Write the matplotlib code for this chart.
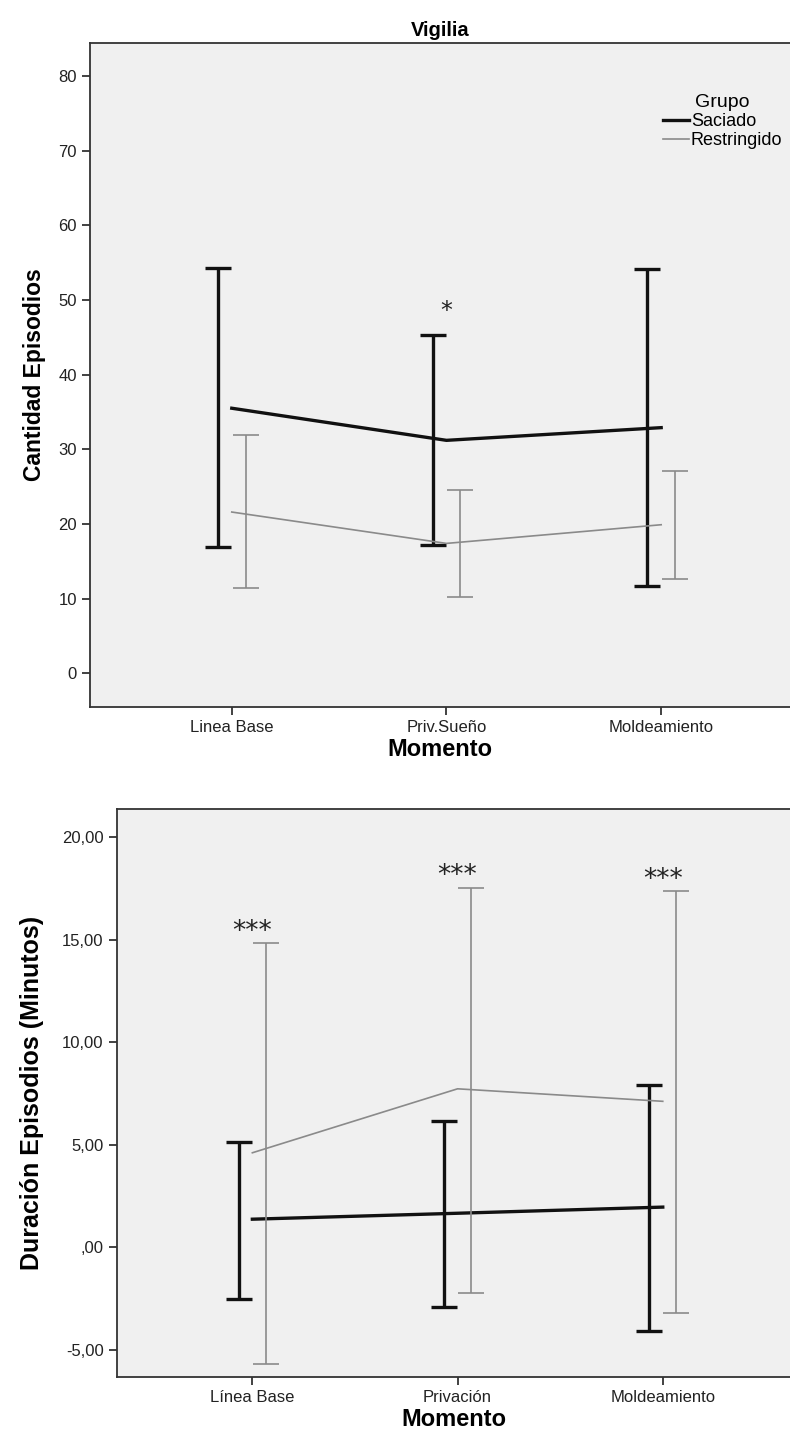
import numpy as np
import matplotlib
matplotlib.use("Agg")
import matplotlib.pyplot as plt
from matplotlib.lines import Line2D

# Fonts: SPSS-like look
plt.rcParams['font.family'] = ['Liberation Sans', 'DejaVu Sans']

# Data
groups = ["Saciado", "Restringido"]
colors = ["#111111", "#8a8a8a"]
widths = [2.4, 1.2]

# Top chart: Vigilia, Cantidad Episodios
cats_top = ["Linea Base", "Priv.Sueño", "Moldeamiento"]
top_mean = [[35.5, 31.2, 32.9], [21.6, 17.4, 19.9]]
top_lo = [[16.9, 17.2, 11.7], [11.4, 10.2, 12.7]]
top_hi = [[54.3, 45.3, 54.1], [31.9, 24.6, 27.1]]
top_stars = ["", "*", ""]
top_star_y = [0, 48.5, 0]
top_yticks = [0, 10, 20, 30, 40, 50, 60, 70, 80]

# Bottom chart: Duración Episodios (Minutos)
cats_bot = ["Línea Base", "Privación", "Moldeamiento"]
bot_mean = [[1.38, 1.67, 1.97], [4.62, 7.74, 7.13]]
bot_lo = [[-2.5, -2.9, -4.05], [-5.7, -2.2, -3.2]]
bot_hi = [[5.16, 6.18, 7.95], [14.84, 17.54, 17.4]]
bot_stars = ["***", "***", "***"]
bot_star_y = [15.4, 18.1, 17.95]
bot_yticks = [-5, 0, 5, 10, 15, 20]
bot_yticklabels = ["-5,00", ",00", "5,00", "10,00", "15,00", "20,00"]

fig = plt.figure(figsize=(7.9, 14.34), dpi=100)

# Axes placement (fractions of the figure)
ax1 = fig.add_axes([0.114, 0.507, 0.886, 0.463])
ax2 = fig.add_axes([0.148, 0.040, 0.852, 0.396])

offsets = [-0.065, 0.065]


def draw_panel(ax, cats, mean, lo, hi, stars, star_y, star_size):
    x = np.arange(len(cats))
    for g in range(len(groups)):
        m = np.array(mean[g])
        err = [m - np.array(lo[g]), np.array(hi[g]) - m]
        # means joined at the category centres
        ax.plot(x, m, color=colors[g], lw=widths[g], zorder=3)
        # error bars dodged left / right
        ax.errorbar(x + offsets[g], m, yerr=err, fmt="none", ecolor=colors[g],
                    elinewidth=widths[g], capsize=9.5, capthick=widths[g], zorder=3)
    for i in range(len(cats)):
        if stars[i]:
            ax.text(x[i], star_y[i], stars[i], ha="center", va="center",
                    fontsize=star_size, color="#222222", family="DejaVu Sans")
    ax.set_facecolor("#f0f0f0")
    ax.set_xticks(x)
    ax.set_xticklabels(cats)
    ax.spines["right"].set_visible(False)
    for s in ["left", "top", "bottom"]:
        ax.spines[s].set_color("#333333")
        ax.spines[s].set_linewidth(1.3)
    ax.tick_params(axis="both", direction="out", length=6, width=1.3,
                   color="#333333", labelsize=12, labelcolor="#222222")
    ax.set_xlabel("Momento", fontsize=17, fontweight="bold", labelpad=2)


draw_panel(ax1, cats_top, top_mean, top_lo, top_hi, top_stars, top_star_y, 17)
ax1.set_xlim(-0.66, 2.6)
ax1.set_ylim(-4.5, 84.4)
ax1.set_yticks(top_yticks)
ax1.set_ylabel("Cantidad Episodios", fontsize=16.5, fontweight="bold", labelpad=9)
ax1.set_title("Vigilia", fontsize=14.5, fontweight="bold", pad=5)

handles = [Line2D([0], [0], color=colors[g], lw=widths[g]) for g in range(len(groups))]
leg = ax1.legend(handles, groups, title="Grupo", frameon=False, loc="upper left",
                 bbox_to_anchor=(0.795, 0.948), fontsize=13, title_fontsize=14,
                 handlelength=1.45, handletextpad=0.1, labelspacing=0.12)

draw_panel(ax2, cats_bot, bot_mean, bot_lo, bot_hi, bot_stars, bot_star_y, 19)
ax2.set_xlim(-0.66, 2.62)
ax2.set_ylim(-6.3, 21.4)
ax2.set_yticks(bot_yticks)
ax2.set_yticklabels(bot_yticklabels)
ax2.set_ylabel("Duración Episodios (Minutos)", fontsize=18, fontweight="bold", labelpad=13)

fig.savefig("out.png", dpi=100, facecolor="white")
